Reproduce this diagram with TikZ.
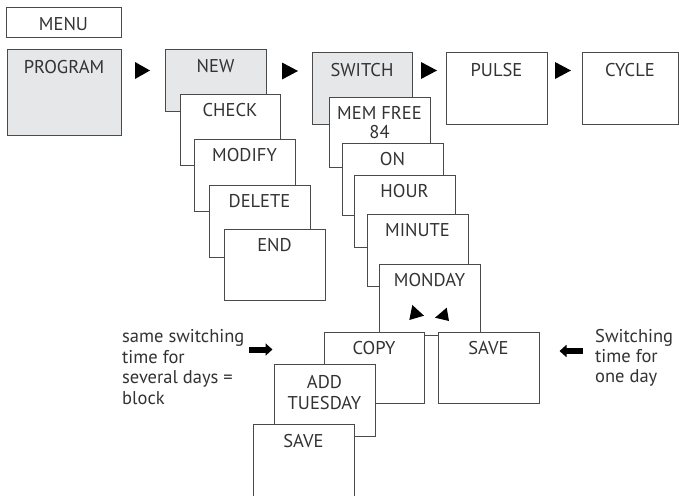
\documentclass[tikz,border=0pt]{standalone}
\usepackage{fontspec}
\setmainfont{PT Sans}
\usetikzlibrary{arrows.meta}
\definecolor{boxgray}{HTML}{E6E7E8}
\definecolor{linec}{HTML}{4A4A4A}
\definecolor{textc}{HTML}{333333}
\tikzset{
  boxstyle/.style={draw=linec, line width=0.9pt, rectangle, inner sep=0pt, outer sep=0pt},
  lbl/.style={text=textc, font=\fontsize{18.5}{21}\selectfont, anchor=base, inner sep=0pt, align=center},
  note/.style={text=textc, font=\fontsize{18.5}{20.5}\selectfont, anchor=base west, inner sep=0pt, align=left},
  tri/.style={fill=black},
  fatarrow/.style={draw=black, line width=6pt, -{Triangle[length=7pt,width=12pt]}}
}
% name, x1, y1, x2, y2, fill, baseline offset of LAST text line from top, text
\newcommand\mybox[8]{%
  \node[boxstyle, fill=#6, minimum width={#4-#2}, minimum height={#5-#3}] (#1) at ({(#2+#4)/2},{(#3+#5)/2}) {};
  \node[lbl] (#1t) at ([yshift=-#7pt]#1.north) {#8};
}
\begin{document}
\begin{tikzpicture}[x=1pt,y=-1pt]
\useasboundingbox (0,0) rectangle (679,495);
\clip (0,0) rectangle (679,495);
\fill[white] (0,0) rectangle (679,495);
% top row
\mybox{menu}{6}{7}{121}{37}{white}{24}{MENU}
\mybox{program}{7}{49}{121}{135}{boxgray}{24}{PROGRAM}
\mybox{new}{165}{49}{266}{111}{boxgray}{23}{NEW}
\mybox{check}{180}{94}{280}{165}{white}{22}{CHECK}
\mybox{modify}{194}{139}{295}{211}{white}{22}{MODIFY}
\mybox{delete}{209}{185}{310}{257}{white}{22}{DELETE}
\mybox{endb}{224}{229}{325}{300}{white}{22}{END}
\mybox{switch}{312}{52}{412}{124}{boxgray}{24}{SWITCH}
\mybox{pulse}{446}{52}{547}{124}{white}{24}{PULSE}
\mybox{cycle}{582}{52}{678}{124}{white}{24}{CYCLE}
% switch column
\mybox{mem}{329}{97}{430}{167}{white}{41}{MEM FREE\\[-2pt]84}
\mybox{on}{342}{143}{443}{215}{white}{22}{ON}
\mybox{hour}{354}{175}{455}{247}{white}{22}{HOUR}
\mybox{minute}{367}{214}{468}{286}{white}{22}{MINUTE}
\mybox{monday}{379}{264}{480}{335}{white}{22}{MONDAY}
\mybox{copy}{324}{332}{424}{403}{white}{22}{COPY}
\mybox{save}{438}{332}{539}{403}{white}{22}{SAVE}
\mybox{add}{274}{364}{375}{436}{white}{45}{ADD\\TUESDAY}
\mybox{savetwo}{253}{424}{354}{500}{white}{23}{SAVE}
% small triangles between top boxes
\fill[tri] (135,62) -- (150,70.5) -- (135,79) -- cycle;
\fill[tri] (282,62.5) -- (298,71) -- (282,79.5) -- cycle;
\fill[tri] (421,62) -- (437,70.5) -- (421,79) -- cycle;
\fill[tri] (555,62) -- (571,70.5) -- (555,79) -- cycle;
% triangles in MONDAY
\fill[tri] (412.3,305) -- (424,315.7) -- (409.3,320) -- cycle;
\fill[tri] (446.7,307.7) -- (449,321) -- (435,317.7) -- cycle;
% notes (anchored at the baseline of the last line)
\node[note] (lefttext) at (122,404) {same switching\\time for\\several days =\\block};
\node[note, font=\fontsize{18.5}{20}\selectfont] (righttext) at (595,382) {Switching\\time for\\one day};
\coordinate (la1) at (249,349.5);
\coordinate (la2) at (272.5,349.5);
\coordinate (ra1) at (583,351);
\coordinate (ra2) at (559.5,351);
\draw[fatarrow] (la1) -- (la2);
\draw[fatarrow] (ra1) -- (ra2);
\end{tikzpicture}
\end{document}
